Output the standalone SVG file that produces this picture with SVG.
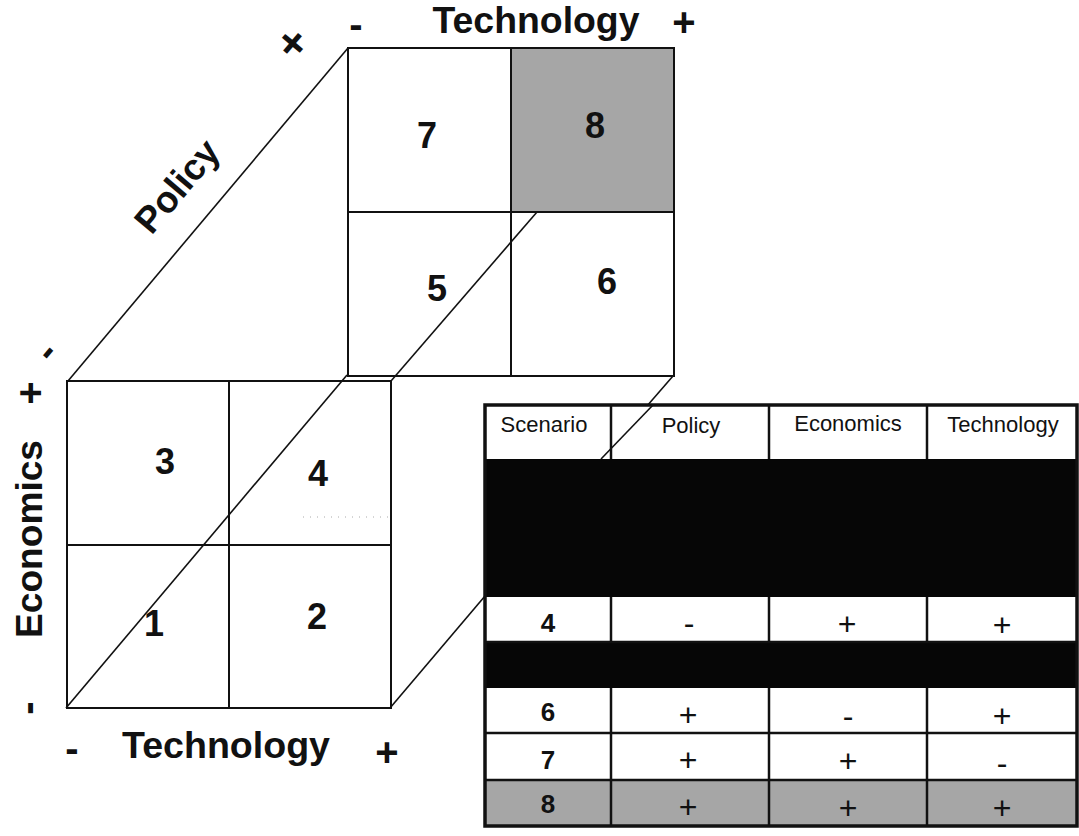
<svg xmlns="http://www.w3.org/2000/svg" width="1079" height="836" viewBox="0 0 1079 836">
<defs>
<style>
.cell{fill:#fff;stroke:#111;stroke-width:2}
.gray{fill:#a6a6a6;stroke:#111;stroke-width:2}
.num{font-family:"Liberation Sans",Arial,sans-serif;font-weight:bold;font-size:36px;fill:#111;text-anchor:middle}
.axis{font-family:"Liberation Sans",Arial,sans-serif;font-weight:bold;font-size:37px;fill:#111;text-anchor:middle}
.mark{font-family:"Liberation Sans",Arial,sans-serif;font-weight:bold;font-size:40px;fill:#111;text-anchor:middle}
.edge{stroke:#111;stroke-width:1.6;fill:none}
.hdr{font-family:"Liberation Sans",Arial,sans-serif;font-size:22px;fill:#111;text-anchor:middle}
.tnum{font-family:"Liberation Sans",Arial,sans-serif;font-weight:bold;font-size:26px;fill:#111;text-anchor:middle}
.sign{font-family:"Liberation Sans",Arial,sans-serif;font-size:32px;fill:#111;text-anchor:middle}
.tline{stroke:#111;stroke-width:2.5}
.black{fill:#060606}
</style>
</defs>
<rect width="1079" height="836" fill="#fff"/>

<!-- back face -->
<g id="cell-7"><rect class="cell" x="348" y="48" width="163" height="164"/><text class="num" x="427" y="148">7</text></g>
<g id="cell-5"><rect class="cell" x="348" y="212" width="163" height="164"/><text class="num" x="437" y="301">5</text></g>
<g id="cell-6"><rect class="cell" x="511" y="212" width="163" height="164"/><text class="num" x="607" y="294">6</text></g>

<!-- front face -->
<g id="cell-3"><rect class="cell" x="67" y="381" width="162" height="164"/><text class="num" x="165" y="474">3</text></g>
<g id="cell-4"><rect class="cell" x="229" y="381" width="162" height="164"/><text class="num" x="318" y="486">4</text><line x1="303" y1="517" x2="388" y2="517" stroke="#aaa" stroke-width="1" stroke-dasharray="1 6"/></g>
<g id="cell-1"><rect class="cell" x="67" y="545" width="162" height="163"/><text class="num" x="154" y="636">1</text></g>
<g id="cell-2"><rect class="cell" x="229" y="545" width="162" height="163"/><text class="num" x="317" y="629">2</text></g>

<!-- connectors (cube edges) -->
<g id="connectors">
<line class="edge" x1="68" y1="381" x2="348" y2="48"/>
<line class="edge" x1="66" y1="708" x2="347" y2="375"/>
<line class="edge" x1="391" y1="381" x2="537" y2="212"/>
<line class="edge" x1="390" y1="708" x2="485" y2="596"/>
<line class="edge" x1="673" y1="376" x2="601" y2="459"/>
</g>

<g id="cell-8"><rect class="gray" x="511" y="48" width="163" height="164"/><text class="num" x="595" y="138">8</text></g>

<!-- axis labels -->
<g id="axis-technology-top">
<text class="mark" x="356" y="38">-</text>
<text class="axis" x="536" y="33" textLength="207" lengthAdjust="spacingAndGlyphs">Technology</text>
<text class="mark" x="684" y="36">+</text>
</g>
<g id="axis-technology-bottom">
<text class="mark" x="72" y="762">-</text>
<text class="axis" x="226" y="758" textLength="208" lengthAdjust="spacingAndGlyphs">Technology</text>
<text class="mark" x="387" y="766">+</text>
</g>
<g id="axis-economics">
<text class="axis" transform="translate(42,539) rotate(-90)" x="0" y="0" textLength="198" lengthAdjust="spacingAndGlyphs">Economics</text>
<text class="mark" transform="translate(30,393) rotate(-90)" x="0" y="14">+</text>
<text class="mark" transform="translate(30,708) rotate(-90)" x="0" y="10.5">-</text>
</g>
<g id="axis-policy">
<text class="axis" transform="translate(179,188) rotate(-49.8)" x="0" y="10">Policy</text>
<text class="mark" transform="translate(48,353) rotate(-49.8)" x="0" y="10.5">-</text>
<text class="mark" style="font-size:46px" transform="translate(292,43) rotate(-49.8)" x="0" y="16">+</text>
</g>

<!-- table -->
<g id="table">
<rect x="485" y="405" width="592" height="421" fill="#fff"/>
<g id="table-header">
<line class="tline" x1="611" y1="405" x2="611" y2="459"/>
<line class="tline" x1="769" y1="405" x2="769" y2="459"/>
<line class="tline" x1="927" y1="405" x2="927" y2="459"/>
<text class="hdr" x="544" y="432">Scenario</text>
<text class="hdr" x="691" y="433">Policy</text>
<text class="hdr" x="848" y="431">Economics</text>
<text class="hdr" x="1003" y="432">Technology</text>
</g>
<line class="edge" x1="653" y1="405" x2="601" y2="459"/>
<rect class="black" x="485" y="459" width="592" height="138"/>
<rect class="black" x="485" y="642" width="592" height="46"/>
<rect x="485" y="780" width="592" height="45" fill="#a6a6a6"/>
<line class="tline" x1="485" y1="642" x2="1077" y2="642"/>
<line class="tline" x1="485" y1="733" x2="1077" y2="733"/>
<line class="tline" x1="485" y1="780" x2="1077" y2="780"/>
<line class="tline" x1="611" y1="597" x2="611" y2="642"/>
<line class="tline" x1="769" y1="597" x2="769" y2="642"/>
<line class="tline" x1="927" y1="597" x2="927" y2="642"/>
<line class="tline" x1="611" y1="688" x2="611" y2="826"/>
<line class="tline" x1="769" y1="688" x2="769" y2="826"/>
<line class="tline" x1="927" y1="688" x2="927" y2="826"/>
<g id="row-4">
<text class="tnum" x="548" y="632">4</text>
<text class="sign" x="689" y="634">-</text>
<text class="sign" x="847" y="635">+</text>
<text class="sign" x="1002" y="636">+</text>
</g>
<g id="row-6">
<text class="tnum" x="548" y="721">6</text>
<text class="sign" x="688" y="726">+</text>
<text class="sign" x="848" y="727">-</text>
<text class="sign" x="1002" y="727">+</text>
</g>
<g id="row-7">
<text class="tnum" x="548" y="769">7</text>
<text class="sign" x="688" y="771">+</text>
<text class="sign" x="848" y="772">+</text>
<text class="sign" x="1002" y="774">-</text>
</g>
<g id="row-8">
<text class="tnum" x="548" y="813">8</text>
<text class="sign" x="688" y="818">+</text>
<text class="sign" x="848" y="819">+</text>
<text class="sign" x="1002" y="819">+</text>
</g>
<rect x="485" y="405" width="592" height="421" fill="none" stroke="#111" stroke-width="3.5"/>
</g>
</svg>
